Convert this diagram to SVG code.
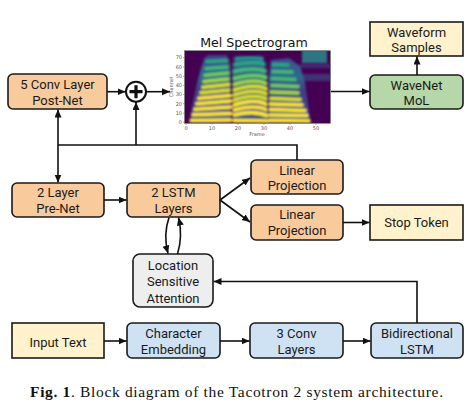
<svg xmlns="http://www.w3.org/2000/svg" width="472" height="409" viewBox="0 0 472 409">
<defs>
<style>
.box{stroke:#1a1a1a;stroke-width:1.6}
.orange{fill:#f9cb9c}.green{fill:#b6d7a8}.yellow{fill:#fff2cc}.blue{fill:#cfe2f3}.gray{fill:#eeeeee}
.lbl{font-family:Roboto,"Liberation Sans",sans-serif;font-size:13px;fill:#1a1a1a;text-anchor:middle}
.wire{fill:none;stroke:#111;stroke-width:1.6}
.arr{marker-end:url(#ah)}
.tick{font-family:"DejaVu Sans",sans-serif;font-size:5px;fill:#555}
.b{fill:none;stroke-width:3.6;stroke-linecap:round}
.y1{stroke:#fde725}.y2{stroke:#d8e219}.y3{stroke:#a0da39}.y4{stroke:#6ccd5a}.y5{stroke:#3fbc73}.y6{stroke:#25a784}.y7{stroke:#21918c}
</style>
<marker id="ah" markerUnits="userSpaceOnUse" markerWidth="9" markerHeight="8" refX="8" refY="3.5" orient="auto"><path d="M0,0 L8,3.5 L0,7 z" fill="#111"/></marker>
<linearGradient id="base" gradientUnits="userSpaceOnUse" x1="0" y1="123" x2="0" y2="51">
<stop offset="0" stop-color="#3b528b"/><stop offset="0.45" stop-color="#433e85"/><stop offset="0.65" stop-color="#31688e"/><stop offset="0.85" stop-color="#3b528b"/><stop offset="1" stop-color="#46327e"/>
</linearGradient>
<clipPath id="plot"><rect x="184.5" y="50.7" width="146" height="72.6"/></clipPath>
<filter id="blur" x="-5%" y="-5%" width="110%" height="110%"><feGaussianBlur stdDeviation="0.9"/></filter>
</defs>

<g id="spectrogram">
<text x="254" y="46.5" font-family="DejaVu Sans,sans-serif" font-size="12.6" text-anchor="middle" fill="#111">Mel Spectrogram</text>
<g clip-path="url(#plot)">
<rect x="184.5" y="50.7" width="146" height="72.6" fill="#440154"/>
<g filter="url(#blur)">
<rect x="298" y="74" width="33" height="7" fill="#3b528b" opacity="0.6"/>
<rect x="300" y="64" width="31" height="4" fill="#414487" opacity="0.6"/>
<rect x="302" y="50" width="25" height="13" fill="#2c8a8c" opacity="0.85"/>
<path d="M190,123 L191,112 Q197,80 204,58 L208,55 L227,55 L230,66 L231,123 Z" fill="url(#base)"/>
<path d="M233,123 L233,70 L235,56 L263,56 L266,70 L268,123 Z" fill="url(#base)"/>
<path d="M268,123 L269,80 L271,60 L289,58 L300,66 L305,82 L309,112 L311,123 Z" fill="url(#base)"/>
<path class="b y1" d="M191,120.5 L231,120" stroke-width="4.5"/>
<path class="b y1" d="M193,114.8 L231,113.5"/>
<path class="b y1" d="M195,109.3 L231,107"/>
<path class="b y1" d="M197,103.8 L231,101"/>
<path class="b y1" d="M199,98.3 L231,95.5"/>
<path class="b y2" d="M201,92.8 L230,90"/>
<path class="b y2" d="M203,87.3 L229,84.5"/>
<path class="b y3" d="M204,81.5 L228,79"/>
<path class="b y4" d="M205,75.3 L228,73"/>
<path class="b y5" d="M206,68.5 L227,67"/>
<path class="b y6" d="M207,61.5 L227,60.5"/>
<path class="b y1" d="M234,120.5 L268,121" stroke-width="4.5"/>
<path class="b y1" d="M234,115 Q254,110 267,115.5"/>
<path class="b y1" d="M234,110 Q255,104 267,110"/>
<path class="b y1" d="M234,105 Q255,98 267,104.5"/>
<path class="b y2" d="M234,100 Q255,93 267,99"/>
<path class="b y2" d="M234,95 Q255,88 267,94"/>
<path class="b y2" d="M234,90 Q255,83 267,89"/>
<path class="b y3" d="M234,84.5 Q255,78 266,83.5"/>
<path class="b y4" d="M234,78.5 Q255,73 266,77.5"/>
<path class="b y5" d="M234,71.5 Q255,67 265,71"/>
<path class="b y6" d="M235,64.5 Q255,61 264,64"/>
<path class="b y7" d="M236,59 Q254,56.5 262,59"/>
<path class="b y1" d="M270,120.5 L309,121" stroke-width="4.5"/>
<path class="b y1" d="M270,115 L307,115.5"/>
<path class="b y1" d="M270,109.5 L305,110.5"/>
<path class="b y1" d="M270,104 L302,105"/>
<path class="b y2" d="M271,98.5 L300,99.5"/>
<path class="b y3" d="M271,92 L298,93"/>
<path class="b y4" d="M272,85.5 L298,86.5"/>
<path class="b y5" d="M272,78.5 L295,79.5"/>
<path class="b y5" d="M273,71.5 L292,72"/>
<path class="b y6" d="M273,64.5 L288,65"/>
<path d="M231.5,50 L231.5,95" stroke="#440154" stroke-width="2.2"/>
<path d="M268,50 L268,112" stroke="#440154" stroke-width="1.6" opacity="0.8"/>
</g>
</g>
<rect x="184.5" y="50.7" width="146" height="72.6" fill="none" stroke="#555" stroke-width="0.6"/>
<g stroke="#555" stroke-width="0.5">
<path d="M186,123.3v1.5M212,123.3v1.5M238,123.3v1.5M264,123.3v1.5M290,123.3v1.5M316,123.3v1.5"/>
<path d="M184.5,122.3h-1.5M184.5,113.1h-1.5M184.5,103.8h-1.5M184.5,94.6h-1.5M184.5,85.4h-1.5M184.5,76.2h-1.5M184.5,66.9h-1.5M184.5,57.7h-1.5"/>
</g>
<g class="tick" text-anchor="middle">
<text x="186" y="129.5">0</text><text x="212" y="129.5">10</text><text x="238" y="129.5">20</text><text x="264" y="129.5">30</text><text x="290" y="129.5">40</text><text x="316" y="129.5">50</text>
<text x="257" y="136">Frame</text>
</g>
<g class="tick" text-anchor="end">
<text x="182" y="124">0</text><text x="182" y="114.8">10</text><text x="182" y="105.5">20</text><text x="182" y="96.3">30</text><text x="182" y="87.1">40</text><text x="182" y="77.9">50</text><text x="182" y="68.6">60</text><text x="182" y="59.4">70</text>
</g>
<text class="tick" transform="translate(173,87) rotate(-90)" text-anchor="middle">Channel</text>
</g>

<g id="postnet"><rect class="box orange" x="8" y="74" width="99" height="35" rx="5"/><text class="lbl" x="57.5" y="88.5">5 Conv Layer</text><text class="lbl" x="57.5" y="104.5">Post-Net</text></g>
<g id="plus"><circle cx="136" cy="91.7" r="10" fill="#fff" stroke="#111" stroke-width="2"/><path d="M129.5,91.7h13M136,85.2v13" stroke="#111" stroke-width="3.2"/></g>
<g id="waveform"><rect class="box yellow" x="370" y="22" width="93" height="34"/><text class="lbl" x="416.5" y="36.5">Waveform</text><text class="lbl" x="416.5" y="51.5">Samples</text></g>
<g id="wavenet"><rect class="box green" x="370" y="75" width="93" height="34" rx="5"/><text class="lbl" x="416.5" y="89.5">WaveNet</text><text class="lbl" x="416.5" y="104.5">MoL</text></g>
<g id="prenet"><rect class="box orange" x="12" y="183" width="92" height="34" rx="5"/><text class="lbl" x="58" y="197">2 Layer</text><text class="lbl" x="58" y="213">Pre-Net</text></g>
<g id="lstm"><rect class="box orange" x="127" y="183" width="93" height="34" rx="5"/><text class="lbl" x="173.5" y="197">2 LSTM</text><text class="lbl" x="173.5" y="213">Layers</text></g>
<g id="linproj1"><rect class="box orange" x="251" y="160" width="92" height="34" rx="5"/><text class="lbl" x="297" y="174.5">Linear</text><text class="lbl" x="297" y="189.5">Projection</text></g>
<g id="linproj2"><rect class="box orange" x="251" y="205" width="92" height="35" rx="5"/><text class="lbl" x="297" y="219">Linear</text><text class="lbl" x="297" y="234.5">Projection</text></g>
<g id="stoptoken"><rect class="box yellow" x="370" y="205" width="93" height="35"/><text class="lbl" x="416.5" y="226.5">Stop Token</text></g>
<g id="attention"><rect class="box gray" x="133" y="254" width="80" height="53" rx="7"/><text class="lbl" x="173" y="269.5">Location</text><text class="lbl" x="173" y="286">Sensitive</text><text class="lbl" x="173" y="302.5">Attention</text></g>
<g id="inputtext"><rect class="box yellow" x="12" y="323" width="92" height="35"/><text class="lbl" x="58" y="346.5">Input Text</text></g>
<g id="charemb"><rect class="box blue" x="127" y="323" width="93" height="35" rx="5"/><text class="lbl" x="173.5" y="337.5">Character</text><text class="lbl" x="173.5" y="353.5">Embedding</text></g>
<g id="conv3"><rect class="box blue" x="250" y="323" width="93" height="35" rx="5"/><text class="lbl" x="296.5" y="337.5">3 Conv</text><text class="lbl" x="296.5" y="353.5">Layers</text></g>
<g id="bilstm"><rect class="box blue" x="371" y="323" width="92" height="35" rx="5"/><text class="lbl" x="417" y="337.5">Bidirectional</text><text class="lbl" x="417" y="353.5">LSTM</text></g>

<g id="connectors">
<path class="wire arr" d="M107,91.7 H125.5"/>
<path class="wire arr" d="M146,91.7 H170"/>
<path class="wire arr" d="M331,91.5 H369.5"/>
<path class="wire arr" d="M417,75 V56.5"/>
<path class="wire" d="M297,160 V145 H58"/>
<path class="wire arr" d="M58,145 V109.5"/>
<path class="wire arr" d="M58,145 V182.5"/>
<path class="wire arr" d="M136,145 V102"/>
<path class="wire arr" d="M104,200 H126.5"/>
<path class="wire arr" d="M220,200 L250,178"/>
<path class="wire arr" d="M220,200 L250,222"/>
<path class="wire arr" d="M343,222.5 H369.5"/>
<path class="wire arr" d="M169,217.5 Q163,235 168,253.5"/>
<path class="wire arr" d="M177.5,254 Q183,236 178.5,217.5"/>
<path class="wire arr" d="M417,323 V281.5 H213.5"/>
<path class="wire arr" d="M104,341 H126.5"/>
<path class="wire arr" d="M220,341 H249.5"/>
<path class="wire arr" d="M343,341 H370.5"/>
</g>

<text x="30" y="397" font-family="Liberation Serif,serif" font-size="15.5" fill="#111" textLength="413" lengthAdjust="spacing"><tspan font-weight="bold">Fig. 1</tspan>. Block diagram of the Tacotron 2 system architecture.</text>
</svg>
